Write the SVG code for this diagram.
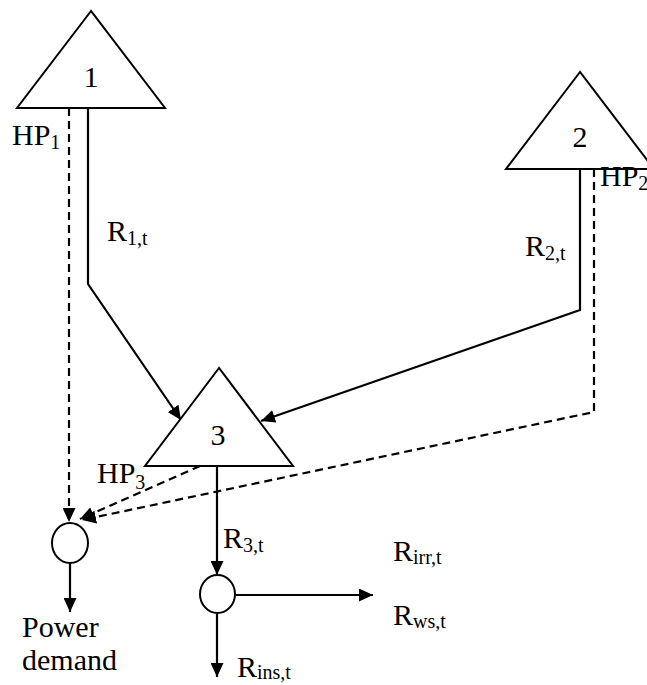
<svg xmlns="http://www.w3.org/2000/svg" width="647" height="685" viewBox="0 0 647 685">
  <style>
    .node { fill: #fff; stroke: #000; stroke-width: 2; }
    .flow { fill: none; stroke: #000; stroke-width: 2.2; }
    .dash { fill: none; stroke: #000; stroke-width: 2.2; stroke-dasharray: 8 5; }
    text { font-family: "Liberation Serif", "Times New Roman", serif; font-size: 30px; fill: #000; }
    .sub { font-size: 20px; }
  </style>
  <defs>
    <marker id="arrow" markerUnits="userSpaceOnUse" markerWidth="14" markerHeight="13" refX="14" refY="6.5" orient="auto">
      <path d="M0,0 L14,6.5 L0,13 z" fill="#000"/>
    </marker>
  </defs>
  <rect width="647" height="685" fill="#fff"/>

  <g id="connectors">
    <line class="dash" x1="69" y1="108" x2="69" y2="522" marker-end="url(#arrow)"/>
    <polyline class="flow" points="88,108 88,284 181,420" marker-end="url(#arrow)"/>
    <polyline class="flow" points="580,169 580,310 261,421" marker-end="url(#arrow)"/>
    <polyline class="dash" points="594,169 594,412 82,520" marker-end="url(#arrow)"/>
    <line class="dash" x1="200" y1="466" x2="80" y2="519" marker-end="url(#arrow)"/>
    <line class="flow" x1="217" y1="466" x2="217" y2="575" marker-end="url(#arrow)"/>
    <line class="flow" x1="70" y1="563" x2="70" y2="612" marker-end="url(#arrow)"/>
    <line class="flow" x1="217" y1="613" x2="217" y2="677" marker-end="url(#arrow)"/>
    <line class="flow" x1="235" y1="595" x2="373" y2="595" marker-end="url(#arrow)"/>
  </g>

  <g id="reservoir1">
    <polygon class="node" points="91,11 17,108 165,108"/>
    <text x="91" y="87" text-anchor="middle">1</text>
  </g>
  <g id="reservoir2">
    <polygon class="node" points="580,72 506,169 654,169"/>
    <text x="580" y="147" text-anchor="middle">2</text>
  </g>
  <g id="reservoir3">
    <polygon class="node" points="219,368 145,466 293,466"/>
    <text x="218" y="445" text-anchor="middle">3</text>
  </g>
  <g id="power-node">
    <ellipse class="node" cx="70" cy="543" rx="18" ry="20"/>
  </g>
  <g id="junction">
    <ellipse class="node" cx="217.5" cy="594" rx="17.5" ry="19"/>
  </g>

  <g id="labels">
    <text x="12" y="145">HP<tspan class="sub" dy="4">1</tspan></text>
    <text x="107" y="241">R<tspan class="sub" dy="4">1,t</tspan></text>
    <text x="600" y="186">HP<tspan class="sub" dy="4">2</tspan></text>
    <text x="525" y="256">R<tspan class="sub" dy="4">2,t</tspan></text>
    <text x="97" y="483">HP<tspan class="sub" dy="6">3</tspan></text>
    <text x="223" y="548">R<tspan class="sub" dy="4">3,t</tspan></text>
    <text x="393" y="561">R<tspan class="sub" dy="3">irr,t</tspan></text>
    <text x="393" y="625">R<tspan class="sub" dy="3">ws,t</tspan></text>
    <text x="237" y="677">R<tspan class="sub" dy="2">ins,t</tspan></text>
    <text x="22" y="637">Power</text>
    <text x="22" y="670">demand</text>
  </g>
</svg>
